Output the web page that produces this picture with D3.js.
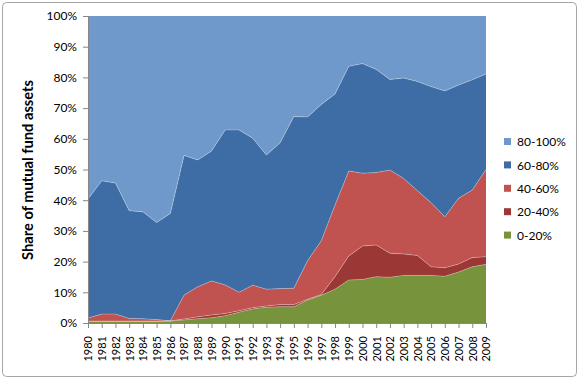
<!DOCTYPE html>
<html><head><meta charset="utf-8">
<script src="https://cdn.jsdelivr.net/npm/d3@7/dist/d3.min.js"></script>
<style>
html,body{margin:0;padding:0;background:#fff;}
text{font-family:Lato,"Open Sans",sans-serif;fill:#000;}
</style></head>
<body><svg id="chart" width="579" height="379"></svg>
<script>
const years = d3.range(1980, 2010);
const seriesNames = ["0-20%", "20-40%", "40-60%", "60-80%", "80-100%"];
const s0_20   = [0.5,0.5,0.5,0.5,0.5,0.5,0.6,1.0,1.4,1.7,2.4,3.5,4.6,5.1,5.3,5.3,7.5,9.0,11.0,14.0,14.2,15.1,14.9,15.5,15.5,15.5,15.2,16.6,18.3,19.1];
const s20_40  = [0.1,0.1,0.1,0.1,0.1,0.1,0.1,0.3,0.6,0.9,0.7,0.5,0.4,0.4,0.7,0.7,0.2,0.3,4.1,7.8,10.9,10.3,7.8,7.0,6.5,2.8,2.8,2.6,3.0,2.5];
const s40_60  = [1.0,2.3,2.3,0.9,0.8,0.5,0.0,7.8,9.8,11.1,9.3,6.0,7.3,5.5,5.2,5.3,12.6,17.5,23.3,27.7,23.7,23.6,27.1,24.6,21.1,20.9,16.6,21.4,22.0,28.4];
const s60_80  = [38.8,43.4,42.7,35.1,34.8,31.6,35.0,45.5,41.3,42.3,50.5,52.9,47.9,43.7,47.5,56.0,46.8,44.4,36.2,34.1,35.7,33.6,29.5,32.7,35.6,37.8,41.0,36.9,35.9,31.1];
const s80_100 = [59.6,53.7,54.4,63.4,63.8,67.3,64.3,45.4,46.9,44.0,37.1,37.1,39.8,45.3,41.3,32.7,32.9,28.8,25.4,16.4,15.5,17.4,20.7,20.2,21.3,23.0,24.4,22.5,20.8,18.9];
const yTicks = [0,10,20,30,40,50,60,70,80,90,100];
const colors = ["#77933C","#9B3835","#C0534F","#3E6DA5","#7099CB"];

const seriesArrays = [s0_20, s20_40, s40_60, s60_80, s80_100];
const table = years.map((y,i)=>{const o={year:y}; seriesNames.forEach((n,k)=>o[n]=seriesArrays[k][i]); return o;});

const svg = d3.select("#chart");
const L=88, R=486, T=16, B=323;

svg.append("rect").attr("x",2.5).attr("y",2.5).attr("width",574).attr("height",374)
  .attr("rx",4).attr("fill","#fff").attr("stroke","#a6a6a6").attr("stroke-width",1);

const x = d3.scalePoint().domain(years).range([L,R]).padding(0);
const y = d3.scaleLinear().domain([0,100]).range([B,T]);

const stack = d3.stack().keys(seriesNames);
const layers = stack(table);

const area = d3.area().x(d=>x(d.data.year)).y0(d=>y(d[0])).y1(d=>y(d[1]));
const topLine = d3.line().x(d=>x(d.data.year)).y(d=>y(d[1]));

svg.append("g").selectAll("path").data(layers).join("path")
  .attr("d",area).attr("fill",(d,i)=>colors[i]);

svg.append("g").selectAll("path").data(layers.slice(0,4)).join("path")
  .attr("d",topLine).attr("fill","none").attr("stroke","rgba(255,255,255,0.35)").attr("stroke-width",0.8);

// y axis
const yAxis = d3.axisLeft(y).tickValues(yTicks).tickFormat(d=>d+"%").tickSize(5).tickPadding(6);
const gy = svg.append("g").attr("transform",`translate(${L},0)`).call(yAxis);
gy.select(".domain").attr("stroke","#868686");
gy.selectAll(".tick line").attr("stroke","#868686");
gy.selectAll("text").style("font-size","12px").style("font-family","Lato");

// x axis
const xAxis = d3.axisBottom(x).tickSize(5).tickSizeOuter(0);
const gx = svg.append("g").attr("transform",`translate(0,${B})`).call(xAxis);
gx.select(".domain").attr("stroke","#868686");
gx.selectAll(".tick line").attr("stroke","#868686");
gx.selectAll("text")
  .style("font-size","11px").style("font-family","Lato")
  .attr("text-anchor","end").attr("transform","rotate(-90)")
  .attr("x",-13).attr("y",0).attr("dy","0.35em");

// y title
svg.append("text").attr("transform","translate(33,170) rotate(-90)")
  .attr("text-anchor","middle").style("font-size","14.7px").style("font-weight","bold")
  .text("Share of mutual fund assets");

// legend
const legendItems = seriesNames.map((n,i)=>({name:n,color:colors[i]})).reverse();
const lg = svg.append("g").selectAll("g").data(legendItems).join("g")
  .attr("transform",(d,i)=>`translate(504,${142+i*23.4})`);
lg.append("rect").attr("x",0).attr("y",-4).attr("width",7).attr("height",7).attr("fill",d=>d.color);
lg.append("text").attr("x",13).attr("y",0).attr("dy","0.35em").style("font-size","12px").text(d=>d.name);
</script></body></html>
